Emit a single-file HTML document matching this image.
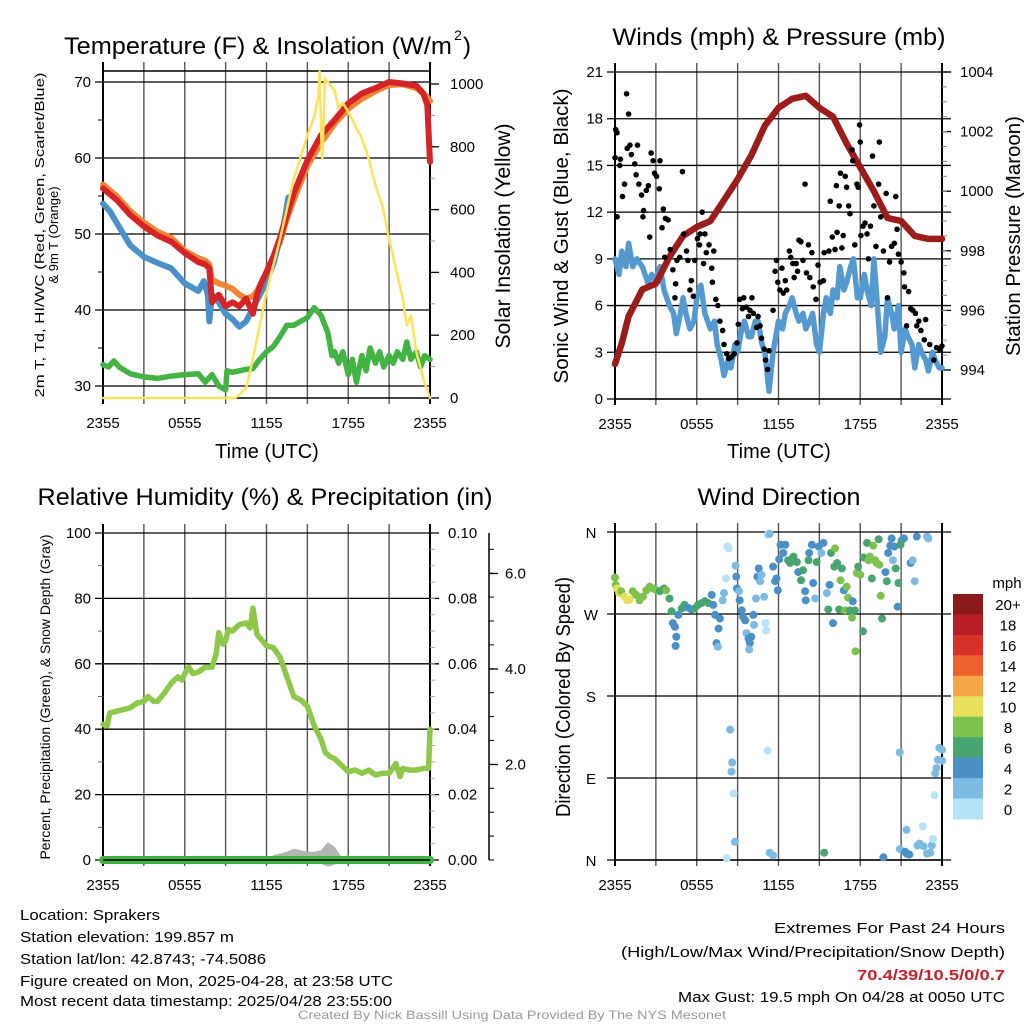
<!DOCTYPE html>
<html><head><meta charset="utf-8"><style>
html,body{margin:0;padding:0;background:#fff;}
svg{display:block;font-family:"Liberation Sans",Arial,sans-serif;}
</style></head><body>
<svg id="c" width="1024" height="1024" viewBox="0 0 1024 1024" xmlns="http://www.w3.org/2000/svg"></svg>
<script>
// ---------------- DATA ----------------
const xTickLabels = ["2355","0555","1155","1755","2355"];
const tempHours = [0,1,2,3,4,5,6,7,7.5,7.8,8,8.5,9,9.5,10,10.5,11,11.3,11.6,12,12.5,13,13.5,14,15,16,17,18,19,20,21,22,23,23.5,23.8,24];
const tempRed =   [56,54.5,52.5,51,49.8,49,47.5,46.3,46,45.5,41,42,40.5,41,40.5,41.5,39.5,42,43.5,45,47,49.5,52.5,55.4,59.7,63,65,67.2,68.5,69.2,70,69.8,69.5,68.5,67,59.5];
const temp9m =    [56.5,55,53,51.5,50.3,49.5,47.8,46.8,46.5,46,44,43.5,43.2,42.8,42,41.5,41.8,42.5,43.5,45,46.8,49,52,54.5,59,62,64.5,66.5,67.8,68.8,69.6,69.7,69.2,68.5,68,67.5];
const hiwcHours = [0,0.5,1,2,3,4,5,5.5,6,7,7.4,7.7,7.8,8,8.5,9,9.5,10,10.5,11.8,12,12.5,13,13.3,13.6];
const hiwcVals =  [54,53,51.5,48.5,47,46.2,45.5,44.5,43.5,42.5,43.8,42,38.5,42,41,39.5,38.8,37.8,38.5,43,44,46,49.5,51.5,54.8];
const dewHours = [0,0.4,0.8,1.2,2,3,4,5,6,7,7.5,8,8.5,9,9.1,9.5,10,10.5,11,11.5,12,12.5,13,13.5,14,14.5,15,15.5,16,16.5,16.8,17,17.3,17.6,18,18.3,18.6,19,19.3,19.6,20,20.3,20.6,21,21.3,21.6,22,22.3,22.6,23,23.3,23.6,24];
const dewVals =  [32.8,32.5,33.3,32.5,31.6,31.2,31,31.3,31.5,31.6,30.5,31.5,30,29.5,32,31.8,32,32.2,32.3,33.5,34.5,35.2,36.5,38,38,38.5,39,40.3,39.3,37,34,34.5,33,34.5,31.5,33.5,30.5,34,32,35,33,34.5,32.5,34,33,34.5,33.5,35.8,33.5,34.5,32.5,34,33.5];
const solHours = [0,9.7,10.5,11,11.5,12,13,14,15,15.5,15.8,15.9,16.05,16.1,16.3,17,17.3,17.6,18,19,19.5,20,20.5,21,22,22.3,22.6,23,23.5,24];
const solVals =  [0,0,30,125,231,338,507,698,836,895,960,1040,780,762,1017,980,921,940,910,826,762,677,613,507,316,231,263,146,62,0];
const tempTicks = [30,40,50,60,70];
const solTicks = [0,200,400,600,800,1000];
const presHours = [0,0.5,1,2,3,4,5,6,7,8,9,10,11,12,13,14,15,16,17,18,19,20,21,22,23,24];
const presVals =  [994.2,994.9,995.8,996.7,996.9,997.8,998.5,998.8,999.0,999.7,1000.4,1001.2,1002.2,1002.8,1003.1,1003.2,1002.8,1002.5,1001.6,1000.8,1000.0,999.1,999.0,998.5,998.4,998.4];
const windHours = [0,0.3,0.5,0.8,1,1.3,1.6,2,2.4,2.7,3,3.3,3.6,4,4.3,4.5,4.8,5,5.2,5.5,5.8,6,6.3,6.6,7,7.3,7.5,7.8,8,8.3,8.5,8.8,9,9.3,9.5,9.8,10,10.3,10.5,10.8,11,11.3,11.6,12,12.3,12.5,12.8,13,13.3,13.5,13.8,14,14.3,14.5,14.8,15,15.3,15.5,15.8,16,16.3,16.5,16.8,17,17.3,17.5,17.8,18,18.3,18.5,18.8,19,19.3,19.5,19.8,20,20.3,20.5,20.8,21,21.3,21.5,21.8,22,22.3,22.5,22.8,23,23.3,23.5,23.8,24];
const windVals =  [9,8,9.5,8.5,10,8.5,9,8.5,7.5,8,7.5,8.5,7,6,5.5,4.2,5.5,6.5,5.5,4.5,5,6.5,7.3,5.5,4.5,5,3.5,2.5,1.5,2.5,2,3.5,3,4.5,5,4,4,5,5,3.5,3,0.5,3,5,4.5,5.5,6,6.5,5.5,5,5.5,4.5,5,5.5,3.5,3,5.5,6.5,5.5,7,6.5,8.5,7,7.5,8.5,9,6.5,6.5,8,7,6,9,5.5,3,4,6.5,5.5,4.5,6,3,4.5,4,3.5,2,3.5,3,2.5,1.8,3,2.5,2,2];
const gusts = [[0.05,17.3],[0.15,17.1],[0,15.5],[0.15,11.7],[0.4,15.4],[0.85,19.6],[1.0,18.3],[0.35,15],[0.55,13],[0.7,13.8],[0.9,16.1],[1.1,16.3],[1.2,15.7],[1.45,15.1],[1.65,16.3],[1.55,14.4],[1.75,13.8],[1.95,13.1],[2.05,11.7],[2.1,12.1],[2.3,13.4],[2.45,13.7],[2.55,10.4],[2.65,15.8],[2.8,15.3],[2.9,14.5],[3.05,14.3],[3.3,15.3],[3.25,13.5],[3.55,12.2],[3.7,11.6],[3.9,11.5],[3.45,11],[3.65,9.1],[4.05,9.6],[4.25,8.3],[4.45,7.4],[4.4,6.5],[4.55,8.9],[4.75,9.1],[4.95,14.6],[5.05,10.6],[5.25,9.5],[5.35,8.9],[5.5,7],[5.6,7.6],[5.75,6.6],[5.85,8.9],[6.05,10.3],[6.2,9.9],[6.25,10.6],[6.4,12],[6.6,10.6],[6.5,8.7],[6.7,9.4],[6.9,9.9],[7.1,8.4],[7.15,7.5],[7.25,9.5],[7.4,6.4],[7.55,6.0],[7.7,5],[7.9,4.4],[8.0,3.5],[8.2,2.9],[8.35,2.6],[8.55,2.7],[8.75,2.9],[8.95,3.6],[9.05,4.8],[9.15,6.4],[9.35,5.8],[9.45,6.5],[9.65,5.9],[9.8,5.3],[9.9,5.7],[10.05,6.5],[10.15,5.5],[10.4,4.6],[10.5,5.3],[10.65,4.7],[10.75,3.9],[10.95,3.2],[11.05,2.5],[11.2,1.9],[11.3,3.1],[11.6,5.7],[11.75,8.2],[11.85,8.9],[11.95,7.5],[12.1,7],[12.25,8.4],[12.35,6.8],[12.5,7.6],[12.6,7],[12.8,9.5],[12.9,9.1],[13.05,8.7],[13.15,7.8],[13.3,8.7],[13.4,8.2],[13.5,10.2],[13.65,10.1],[13.8,8.9],[13.95,13.8],[14.05,8.1],[14.2,9.9],[14.3,7.8],[14.45,9.4],[14.55,7.2],[14.75,6.4],[14.9,8.6],[15.05,7.5],[15.3,7.6],[15.35,9.4],[15.7,9.5],[15.8,12.7],[15.95,10.4],[16.15,9.6],[16.25,13.7],[16.3,10.7],[16.45,12.4],[16.55,14.5],[16.65,9.7],[16.75,10.5],[16.9,14.3],[17.0,13.6],[17.15,12.4],[17.25,11.9],[17.4,16],[17.45,15.3],[17.6,9.9],[17.75,13.8],[17.85,13.6],[17.95,17.6],[18.0,16.5],[18.05,10.5],[18.2,11.1],[18.35,11.3],[18.5,10.6],[18.6,9],[18.75,11.1],[18.9,15.6],[19.0,12.4],[19.15,9.8],[19.35,13.8],[19.4,16.5],[19.5,11.7],[19.7,9.5],[19.9,13.2],[20.0,6.5],[20.15,8.8],[20.3,9.8],[20.5,10],[20.6,13],[20.7,10.9],[20.8,9.3],[21.0,8.8],[21.2,8.1],[21.25,7.2],[21.4,4.7],[21.55,6.9],[21.7,5.8],[21.85,5.7],[22.05,5.5],[22.15,4.7],[22.3,5],[22.45,4.4],[22.7,3.8],[22.8,5.1],[23.1,3.5],[23.4,2.5],[23.6,3.3],[23.8,3.2],[24.0,3.4]];
const windTicks = [0,3,6,9,12,15,18,21];
const presTicks = [994,996,998,1000,1002,1004];
const rhHours = [0,0.3,0.5,1,2,2.5,3,3.3,3.7,4,4.5,5,5.5,5.8,6,6.3,6.6,7,7.5,8,8.3,8.5,8.8,9,9.2,9.5,10,10.5,10.8,11,11.3,11.7,12,12.5,13,13.5,14,14.5,15,15.5,16,16.3,16.7,17,17.5,18,18.5,19,19.5,20,20.5,21,21.5,21.8,22,22.5,23,23.5,23.9,24];
const rhVals =  [41.5,41,45,45.5,46.5,48,48.5,50,48.5,48.5,51,54,56,55,57,59,57,57.5,59,59,63,69.5,66,67,70.5,70,72,72.5,71,77,69,67,65.5,65,62,56,50,49,47,41,37,33,31.5,31,29,27,27.5,26.5,27.5,26,26.5,26.5,29.5,25.5,28,27.5,27.5,28,28,40];
const precipHours = [0,24];
const precipVals = [0,0];
const snowHours = [12.3,12.5,13,13.5,14,14.5,15,15.5,16,16.5,17,17.5,18,18.5];
const snowVals =  [0,1.5,2,2.5,3.5,3,2.5,2.5,3,5.5,4,1,1.5,0];
const rhTicks = [0,20,40,60,80,100];
const prTicks = ["0.00","0.02","0.04","0.06","0.08","0.10"];
const sdTicks = ["2.0","4.0","6.0"];
const dirObs = [[0,310,9],[0.05,302,9],[0.15,298,11],[0.3,293,11],[0.45,295,9],[0.7,289,11],[0.9,285,11],[1.1,286,11],[1.3,295,9],[1.55,291,9],[1.8,285,9],[2.05,289,9],[2.3,296,9],[2.55,300,9],[2.8,298,9],[3.05,296,9],[3.3,295,7],[3.6,298,7],[3.75,296,9],[4.0,287,7],[4.15,273,7],[4.25,260,5],[4.4,256,5],[4.5,245,5],[4.45,235,5],[4.65,269,5],[4.9,276,7],[5.1,280,7],[5.35,277,5],[5.6,275,5],[5.85,276,7],[6.1,280,7],[6.35,282,7],[6.6,284,7],[6.85,282,7],[7.1,291,5],[7.2,280,5],[7.35,269,5],[7.45,238,5],[7.55,234,3],[7.6,254,5],[7.7,265,5],[7.9,285,3],[8.0,293,3],[8.15,309,1],[8.25,344,1],[8.35,342,1],[8.45,143,3],[8.6,107,3],[8.55,97,3],[8.7,73,1],[8.8,20,3],[8.2,2,1],[8.85,323,3],[8.9,311,5],[8.95,298,5],[9.1,295,3],[9.15,285,5],[9.3,274,5],[9.4,267,5],[9.55,263,5],[9.65,249,3],[9.8,243,5],[9.9,238,5],[9.85,231,3],[10.0,245,5],[10.15,269,5],[10.2,258,3],[10.35,287,3],[10.45,311,5],[10.55,320,5],[10.65,306,3],[10.75,313,3],[10.95,289,3],[11.05,260,1],[11.1,252,1],[11.2,357,1],[11.35,358,3],[11.2,120,1],[11.35,8,3],[11.6,5,3],[11.6,322,5],[11.75,306,5],[11.85,309,5],[11.95,296,5],[12.05,330,5],[12.15,346,5],[12.35,337,5],[12.5,346,5],[12.7,329,7],[12.85,326,7],[13.1,333,7],[13.35,327,7],[13.45,316,5],[13.65,307,7],[13.8,318,7],[13.95,295,5],[14.0,285,5],[14.2,329,7],[14.25,337,5],[14.45,346,5],[14.55,304,5],[14.7,287,3],[14.8,327,7],[14.95,344,5],[15.15,337,3],[15.3,348,5],[15.35,8,7],[15.55,293,3],[15.65,275,7],[15.75,302,5],[15.85,337,7],[16.0,260,5],[16.1,322,7],[16.15,342,9],[16.3,326,7],[16.45,275,7],[16.55,307,9],[16.65,320,7],[16.8,296,5],[16.9,274,9],[17.0,300,9],[17.1,288,9],[17.25,274,7],[17.4,266,9],[17.45,284,5],[17.6,274,7],[17.65,229,9],[17.75,315,9],[17.85,322,7],[18.0,313,9],[18.2,251,7],[18.25,332,7],[18.5,348,7],[18.6,329,9],[18.7,333,9],[18.85,309,7],[18.95,345,9],[19.1,329,9],[19.2,326,9],[19.35,352,7],[19.4,324,9],[19.5,290,9],[19.6,265,7],[19.7,3,5],[19.85,316,5],[19.95,306,7],[20.05,337,5],[20.2,345,5],[20.3,353,5],[20.4,329,3],[20.5,344,5],[20.6,320,7],[20.75,278,5],[20.8,304,7],[20.9,118,3],[20.95,346,7],[21.05,351,7],[21.2,353,5],[21.4,33,3],[20.9,12,3],[21.3,9,5],[21.4,7,5],[21.6,6,5],[21.7,326,5],[21.85,329,3],[22.0,306,3],[22.15,355,5],[22.2,16,3],[22.35,18,3],[22.6,37,1],[22.65,15,3],[22.9,355,3],[23.0,353,3],[22.9,7,3],[23.15,8,3],[23.25,16,3],[23.35,23,1],[23.45,71,1],[23.5,95,3],[23.6,101,3],[23.7,110,3],[23.8,123,3],[24.0,121,3],[24.05,109,3]];
const dirTickLabels = ["N","E","S","W","N"];
const cbarLabels = ["20+","18","16","14","12","10","8","6","4","2","0"];
const cbarColors = ["#8c1a1b","#b91d25","#d8312a","#ee6230","#f5a646","#e6e05c","#7cc24c","#48a56f","#4a8fc6","#7dbbe3","#b6e3f7"];

// ---------------- DRAW ----------------
const NS="http://www.w3.org/2000/svg";
const svg=document.getElementById('c');
function mk(tag,attrs,parent){const e=document.createElementNS(NS,tag);for(const k in attrs)e.setAttribute(k,attrs[k]);(parent||svg).appendChild(e);return e;}
function txt(s,x,y,size,anchor,extra){const e=mk('text',Object.assign({x:x,y:y,'font-size':size,'text-anchor':anchor||'middle',fill:'#000'},extra||{}));e.textContent=s;return e;}
function poly(xsArr,ysArr,fx,fy,stroke,w){const pts=xsArr.map((h,i)=>fx(h).toFixed(1)+','+fy(ysArr[i]).toFixed(1)).join(' ');return mk('polyline',{points:pts,fill:'none',stroke:stroke,'stroke-width':w,'stroke-linejoin':'round','stroke-linecap':'round'});}

function frame(x0,x1,y0,y1,name){
  const g=mk('g',{});
  
  
  for(let i=0;i<=8;i++){const x=x0+i*(x1-x0)/8;mk('line',{x1:x,y1:y0-9,x2:x,y2:y1+6,stroke:(i==0||i==8)?'#000':'#555','stroke-width':(i==0||i==8)?2:1.4},g);}
  mk('line',{x1:x0,y1:y1,x2:x1,y2:y1,stroke:'#000','stroke-width':1.5},g);
  xTickLabels.forEach((l,i)=>{const t=txt(l,x0+i*(x1-x0)/4,y1+30,15);});
  return g;
}

// Panel 1: temperature
const X1=103,X1e=430;
const xs=h=>X1+h*(X1e-X1)/24;
const yT=v=>82+(70-v)*7.6;
const ySol=v=>398-v*0.314;
frame(X1,X1e,71,398,'temperature-frame');
mk('line',{x1:X1,y1:71,x2:X1e,y2:71,stroke:'#000','stroke-width':1.5});
tempTicks.forEach(v=>{mk('line',{x1:X1-8,y1:yT(v),x2:X1e,y2:yT(v),stroke:'#000','stroke-width':1.3});const t=txt(String(v),X1-12,yT(v)+5,15,'end');});
for(let v=35;v<=65;v+=10)mk('line',{x1:X1-5,y1:yT(v),x2:X1,y2:yT(v),stroke:'#000'});
solTicks.forEach(v=>{mk('line',{x1:X1e,y1:ySol(v),x2:X1e+9,y2:ySol(v),stroke:'#000','stroke-width':1.3});const t=txt(String(v),X1e+20,ySol(v)+5,15,'start');});
for(let v=100;v<=900;v+=200)mk('line',{x1:X1e,y1:ySol(v),x2:X1e+5,y2:ySol(v),stroke:'#999'});
let e;
e=poly(dewHours,dewVals,xs,yT,'#43b343',5.5);
e=poly(tempHours,temp9m,xs,yT,'#f08535',6);
e=poly(hiwcHours,hiwcVals,xs,yT,'#4a90c9',6);
e=poly(tempHours,tempRed,xs,yT,'#d42428',6);
e=poly(solHours,solVals,xs,ySol,'#fde25a',2.5);
e=txt('Temperature (F) & Insolation (W/m',258,54,24,'middle',{textLength:388,lengthAdjust:'spacingAndGlyphs'});
e=txt('2',458,40,14);e=txt(')',467,54,24);
e=txt('Time (UTC)',267,458,20);
e=mk('text',{transform:'translate(44,235) rotate(-90)','font-size':13,'text-anchor':'middle',fill:'#000',textLength:325,lengthAdjust:'spacingAndGlyphs'});e.textContent='2m T, Td, HI/WC (Red, Green, Scarlet/Blue)';
e=mk('text',{transform:'translate(58,235) rotate(-90)','font-size':13,'text-anchor':'middle',fill:'#000'});e.textContent='& 9m T (Orange)';
e=mk('text',{transform:'translate(510,236) rotate(-90)','font-size':21,'text-anchor':'middle',fill:'#000',textLength:225,lengthAdjust:'spacingAndGlyphs'});e.textContent='Solar Insolation (Yellow)';

// Panel 2: winds & pressure
const X2=615,X2e=942;
const xs2=h=>X2+h*(X2e-X2)/24;
const yW=v=>399-v*327/21;
const yP=v=>370-(v-994)*29.8;
frame(X2,X2e,72,399,'wind-frame');
windTicks.forEach(v=>{mk('line',{x1:X2-8,y1:yW(v),x2:X2e+9,y2:yW(v),stroke:'#000','stroke-width':1.3});const t=txt(String(v),X2-12,yW(v)+5,15,'end');});
presTicks.forEach(v=>{mk('line',{x1:X2e,y1:yP(v),x2:X2e+9,y2:yP(v),stroke:'#000','stroke-width':1.3});const t=txt(String(v),X2e+18,yP(v)+5,15,'start');});
for(let v=994.5;v<1004;v+=0.5)mk('line',{x1:X2e,y1:yP(v),x2:X2e+5,y2:yP(v),stroke:'#888'});
e=poly(windHours,windVals,xs2,yW,'#5499d0',5.5);
e=poly(presHours,presVals,xs2,yP,'#9c1b1b',6.5);
gusts.forEach(g=>{const c=mk('circle',{cx:xs2(g[0]),cy:yW(g[1]),r:2.8,fill:'#000'});});
e=txt('Winds (mph) & Pressure (mb)',779,45,24,'middle',{textLength:333,lengthAdjust:'spacingAndGlyphs'});
e=txt('Time (UTC)',779,458,20);
e=mk('text',{transform:'translate(568,236) rotate(-90)','font-size':20,'text-anchor':'middle',fill:'#000',textLength:295,lengthAdjust:'spacingAndGlyphs'});e.textContent='Sonic Wind & Gust (Blue, Black)';
e=mk('text',{transform:'translate(1020,236) rotate(-90)','font-size':20,'text-anchor':'middle',fill:'#000',textLength:240,lengthAdjust:'spacingAndGlyphs'});e.textContent='Station Pressure (Maroon)';

// Panel 3: RH & precip
const yRH=v=>860-v*3.27;
frame(X1,X1e,533,860,'rh-frame');
rhTicks.forEach((v,i)=>{mk('line',{x1:X1-8,y1:yRH(v),x2:X1e+9,y2:yRH(v),stroke:'#000','stroke-width':1.3});let t=txt(String(v),X1-12,yRH(v)+5,15,'end');t=txt(prTicks[i],X1e+18,yRH(v)+5,15,'start');});
for(let v=10;v<100;v+=20){mk('line',{x1:X1-5,y1:yRH(v),x2:X1,y2:yRH(v),stroke:'#666'});}
for(let v=5;v<100;v+=5){mk('line',{x1:X1e,y1:yRH(v),x2:X1e+5,y2:yRH(v),stroke:'#aaa'});}
mk('line',{x1:489,y1:533,x2:489,y2:860,stroke:'#000','stroke-width':1.5});
sdTicks.forEach((s,i)=>{const y=860-(i+1)*95.5;mk('line',{x1:489,y1:y,x2:498,y2:y,stroke:'#000','stroke-width':1.3});const t=txt(s,505,y+5,15,'start');});
for(let i=0;i<14;i++){const y=860-i*23.9;mk('line',{x1:489,y1:y,x2:494,y2:y,stroke:'#000'});}
let sp=snowHours.map((h,i)=>xs(h).toFixed(1)+','+yRH(snowVals[i]).toFixed(1)).join(' ');
sp+=' '+snowHours.slice().reverse().map((h,i)=>xs(h).toFixed(1)+','+(yRH(0)+snowVals[snowHours.length-1-i]*1.2).toFixed(1)).join(' ');
e=mk('polygon',{points:sp,fill:'#b5b5b5'});
e=poly(precipHours,precipVals,xs,v=>yRH(v*1000),'#43b343',8);
mk('line',{x1:X1,y1:860,x2:X1e,y2:860,stroke:'#000','stroke-width':1.5});
e=poly(rhHours,rhVals,xs,yRH,'#8dc84b',5.5);
e=txt('Relative Humidity (%) & Precipitation (in)',265,505,24,'middle',{textLength:455,lengthAdjust:'spacingAndGlyphs'});
e=mk('text',{transform:'translate(50,697) rotate(-90)','font-size':14,'text-anchor':'middle',fill:'#000',textLength:325,lengthAdjust:'spacingAndGlyphs'});e.textContent='Percent, Precipitation (Green), & Snow Depth (Gray)';

// Panel 4: wind direction
const yD=d=>860-d*328/360;
frame(X2,X2e,532,860,'direction-frame');
dirTickLabels.forEach((l,i)=>{const y=yD(i*90);mk('line',{x1:X2-8,y1:y,x2:X2e+9,y2:y,stroke:'#000','stroke-width':1.3});const t=txt(l,X2-24,y+6,15,'middle');});
dirObs.forEach(o=>{const idx=Math.min(10,Math.floor(o[2]/2));const c=mk('circle',{cx:xs2(Math.min(24,o[0])),cy:yD(o[1]),r:4,fill:cbarColors[10-idx]});});
e=txt('Wind Direction',779,505,24,'middle',{textLength:163,lengthAdjust:'spacingAndGlyphs'});
e=mk('text',{transform:'translate(570,697) rotate(-90)','font-size':20,'text-anchor':'middle',fill:'#000',textLength:240,lengthAdjust:'spacingAndGlyphs'});e.textContent='Direction (Colored By Speed)';
const cb=mk('g',{});


const bh=(819-594)/11;
cbarColors.forEach((c,i)=>{mk('rect',{x:953,y:594+i*bh,width:30,height:bh+0.5,fill:c},cb);const t=txt(cbarLabels[i],1008,594+i*bh+bh/2+6,15,'middle');});
e=txt('mph',1007,588,15);

// Footer
const left=[['Location: Sprakers',920,140],['Station elevation: 199.857 m',942,214],['Station lat/lon: 42.8743; -74.5086',964,246],['Figure created on Mon, 2025-04-28, at 23:58 UTC',986,373],['Most recent data timestamp: 2025/04/28 23:55:00',1006,372]];
left.forEach(l=>{const t=txt(l[0],20,l[1],15,'start',{textLength:l[2],lengthAdjust:'spacingAndGlyphs'});});
const right=[['Extremes For Past 24 Hours',933,231,'#000','normal'],['(High/Low/Max Wind/Precipitation/Snow Depth)',957,384,'#000','normal'],['70.4/39/10.5/0/0.7',980,148,'#c8202a','bold'],['Max Gust: 19.5 mph On 04/28 at 0050 UTC',1002,327,'#000','normal']];
right.forEach(l=>{const t=txt(l[0],1005,l[1],15,'end',{textLength:l[2],lengthAdjust:'spacingAndGlyphs',fill:l[3],'font-weight':l[4]});});
e=txt('Created By Nick Bassill Using Data Provided By The NYS Mesonet',512,1019,12,'middle',{fill:'#999',textLength:428,lengthAdjust:'spacingAndGlyphs'});
</script>
</body></html>
